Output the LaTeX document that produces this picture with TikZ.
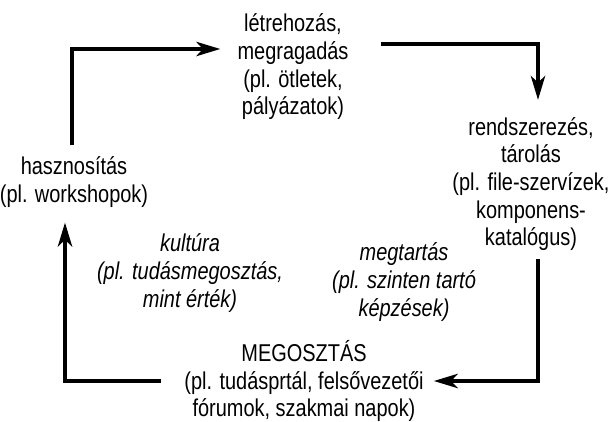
\documentclass[tikz,border=0pt]{standalone}
\usepackage{fontspec}
\setmainfont{Liberation Sans}[FakeStretch=0.82]
\usepackage{tikz}
\usetikzlibrary{arrows.meta,positioning,calc}

\begin{document}
\begin{tikzpicture}[x=0.025cm, y=-0.025cm,
  stage/.style={align=center, inner sep=0pt, font=\fontsize{17.3}{19.7}\selectfont},
  note/.style={stage, font=\fontsize{17.3}{19.7}\selectfont\itshape},
  flow/.style={line width=2.4pt, -{Stealth[length=0.6cm, width=0.36cm, inset=0.17cm]}}]
\useasboundingbox (0,0) rectangle (610,421);
\node[stage] (create) at (293,67) {létrehozás,\\megragadás\\(pl. ötletek,\\pályázatok)};
\node[stage] (store) at (531,184) {rendszerezés,\\tárolás\\(pl. file-szervízek,\\komponens-\\katalógus)};
\node[stage] (share) at (304,381) {MEGOSZTÁS\\(pl. tudásprtál, felsővezetői\\fórumok, szakmai napok)};
\node[stage] (use) at (74,182) {hasznosítás\\(pl. workshopok)};
\node[note] (culture) at (190,273) {kultúra\\(pl. tudásmegosztás,\\mint érték)};
\node[note] (keep) at (404,282) {megtartás\\(pl. szinten tartó\\képzések)};
\draw[flow] ($(use.north)+(-2,-11)$) |- ($(create.west)+(-17,-18)$);
\draw[flow] ($(create.east)+(32,-23)$) -| ($(store.north)+(7,-17)$);
\draw[flow] ($(store.south)+(7,8)$) |- ($(share.east)+(10,0)$);
\draw[flow] ($(share.west)+(-23,0)$) -| ($(use.south)+(-9,15)$);
\end{tikzpicture}
\end{document}
